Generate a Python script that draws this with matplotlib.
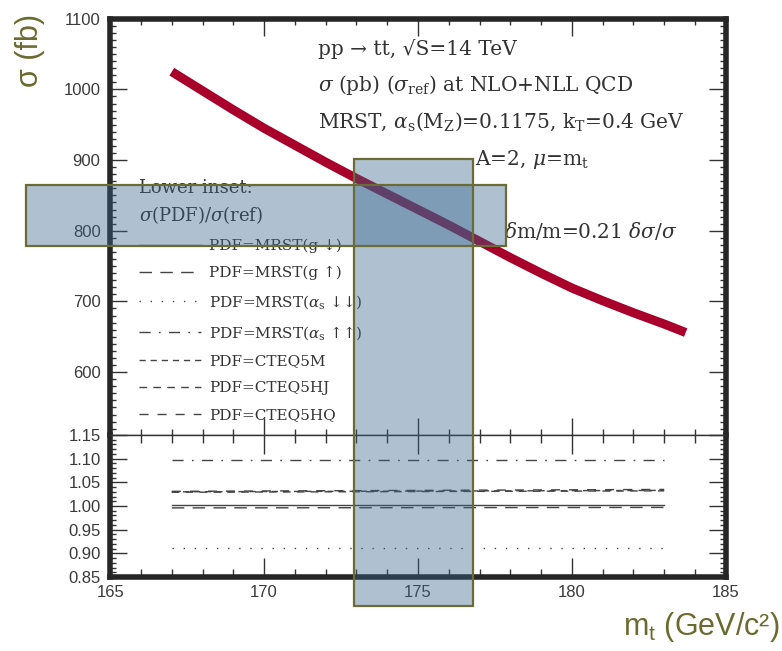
import numpy as np
import matplotlib
matplotlib.use("Agg")
import matplotlib.pyplot as plt
from matplotlib.patches import Rectangle
from matplotlib.ticker import MultipleLocator, FormatStrFormatter
from matplotlib.transforms import blended_transform_factory

# ── data ─────────────────────────────────────────────────────────────────────
MT_CURVE = [167.0, 168.0, 169.0, 170.0, 171.0, 172.0, 173.0, 174.0, 175.0,
            176.0, 177.0, 178.0, 179.0, 180.0, 181.0, 182.0, 183.0, 183.7]
SIGMA_FB = [1025, 998, 971, 945, 921, 897, 874, 852, 830,
            808, 785, 762, 740, 719, 701, 684, 668, 656]

MT_RATIO = [167.0, 183.0]
PDF_LABELS = ["PDF=MRST(g ↓)",
              "PDF=MRST(g ↑)",
              r"PDF=MRST($\alpha_{\rm s}$ ↓↓)",
              r"PDF=MRST($\alpha_{\rm s}$ ↑↑)",
              "PDF=CTEQ5M",
              "PDF=CTEQ5HJ",
              "PDF=CTEQ5HQ"]
RATIO_MRST_GDN  = [1.003, 1.003]
RATIO_MRST_GUP  = [0.996, 0.997]
RATIO_MRST_ADN  = [0.911, 0.911]
RATIO_MRST_AUP  = [1.097, 1.097]
RATIO_CTEQ5M    = [1.030, 1.033]
RATIO_CTEQ5HJ   = [1.029, 1.032]
RATIO_CTEQ5HQ   = [1.031, 1.035]
RATIOS = [RATIO_MRST_GDN, RATIO_MRST_GUP, RATIO_MRST_ADN, RATIO_MRST_AUP,
          RATIO_CTEQ5M, RATIO_CTEQ5HJ, RATIO_CTEQ5HQ]

# highlighted windows
MT_BAND    = (172.93, 176.80)
SIGMA_BAND = (779.0, 865.0)

# ── styles ───────────────────────────────────────────────────────────────────
DASHES = ["-", (0, (9, 6)), (0, (1, 7)), (0, (8, 6, 1.2, 6)),
          (0, (4.5, 3.5)), (0, (5.5, 4.5)), (0, (6.5, 6.5))]
INK    = "#333333"
FRAME  = "#262626"
OLIVE  = "#6b6b30"
RED    = "#a8002a"
SERIF  = "DejaVu Serif"
SANS   = "Liberation Sans"

fig = plt.figure(figsize=(7.82, 6.51), dpi=100, facecolor="white")
L, R = 0.1410, 0.9280
ax  = fig.add_axes([L, 0.3318, R - L, 0.97127 - 0.3318])
axb = fig.add_axes([L, 0.11367, R - L, 0.3318 - 0.11367], sharex=ax)

# upper panel: cross section
ax.plot(MT_CURVE, SIGMA_FB, color=RED, lw=6.5, solid_capstyle="butt", zorder=3)
ax.set_xlim(165, 185)
ax.set_ylim(511, 1100)

# lower panel: ratios
handles = []
for vals, ls, lab in zip(RATIOS, DASHES, PDF_LABELS):
    h, = axb.plot(MT_RATIO, vals, color="#444444", lw=1.0, ls=ls, label=lab)
    handles.append(h)
axb.set_ylim(0.85, 1.15)

# ticks / frames
for a in (ax, axb):
    a.tick_params(which="both", direction="in", top=True, right=True,
                  color=INK, width=1.0, labelcolor="#3a3a3a", labelsize=12)
    a.tick_params(which="major", length=12)
    a.tick_params(which="minor", length=4)
    a.xaxis.set_major_locator(MultipleLocator(5))
    a.xaxis.set_minor_locator(MultipleLocator(1))
ax.yaxis.set_major_locator(MultipleLocator(100))
ax.yaxis.set_minor_locator(MultipleLocator(10))
axb.yaxis.set_major_locator(MultipleLocator(0.05))
axb.yaxis.set_minor_locator(MultipleLocator(0.01))
axb.yaxis.set_major_formatter(FormatStrFormatter("%.2f"))
ax.tick_params(labelbottom=False, pad=7)
axb.tick_params(axis="y", pad=7)
axb.tick_params(axis="x", pad=6)
axb.tick_params(axis="x", which="major", length=14)
axb.tick_params(axis="x", which="minor", length=6)
for lab in ax.get_yticklabels() + axb.get_yticklabels() + axb.get_xticklabels():
    lab.set_fontfamily(SANS)

for sp in ("left", "top", "right"):
    ax.spines[sp].set_linewidth(4.0)
    ax.spines[sp].set_color(FRAME)
ax.spines["bottom"].set_linewidth(1.0)
ax.spines["bottom"].set_color(INK)
for sp in ("left", "bottom", "right"):
    axb.spines[sp].set_linewidth(4.0)
    axb.spines[sp].set_color(FRAME)
axb.spines["top"].set_linewidth(1.0)
axb.spines["top"].set_color(INK)

# annotation text
def note(x, y, s, **kw):
    ax.text(x, y, s, transform=ax.transAxes, fontsize=14.5, color=INK,
            family=SERIF, math_fontfamily="dejavuserif", va="center", **kw)

note(0.3375, 0.928, "pp → tt, √S=14 TeV")
note(0.3375, 0.840, r"$\sigma$ (pb) ($\sigma_{\rm ref}$) at NLO+NLL QCD")
note(0.3375, 0.752, r"MRST, $\alpha_{\rm s}$(M$_{\rm Z}$)=0.1175, k$_{\rm T}$=0.4 GeV")
note(0.592, 0.662, r"A=2, $\mu$=m$_{\rm t}$")
note(0.640, 0.490, r"$\delta$m/m=0.21 $\delta\sigma/\sigma$")

leg = ax.legend(handles=handles, loc="upper left", bbox_to_anchor=(0.047, 0.614),
                frameon=False, handlelength=4.05, handletextpad=0.52,
                labelspacing=0.84, borderpad=0.0, borderaxespad=0.0,
                title="Lower inset:\n" + r"$\sigma$(PDF)/$\sigma$(ref)",
                alignment="left",
                prop={"family": SERIF, "size": 11, "math_fontfamily": "dejavuserif"})
title = leg.get_title()
title.set_fontfamily(SERIF)
title.set_fontsize(13)
title.set_color(INK)
title.set_math_fontfamily("dejavuserif")
title.set_linespacing(1.4)
for t in leg.get_texts():
    t.set_color(INK)

# axis labels (olive, slide style)
fig.text(0.038, 0.922, "σ (fb)", rotation=90, color=OLIVE, fontsize=22,
         family=SANS, ha="center", va="center")
fig.text(0.997, 0.025, r"m$_\mathregular{t}$ (GeV/c²)", color=OLIVE, fontsize=22,
         family=SANS, ha="right", va="baseline")

# highlighted bands over the axes
band_fill = dict(facecolor="#39668e", alpha=0.40, zorder=10)
band_edge = dict(facecolor="none", edgecolor="#6b6b35", lw=1.6, zorder=11)
vtrans = blended_transform_factory(ax.transData, fig.transFigure)
vy0, vy1 = 1 - 606 / 651, 1 - 159 / 651
for kw in (band_fill, band_edge):
    fig.add_artist(Rectangle((MT_BAND[0], vy0), MT_BAND[1] - MT_BAND[0], vy1 - vy0,
                             transform=vtrans, **kw))
    fig.add_artist(Rectangle((162.25, SIGMA_BAND[0]), 177.85 - 162.25,
                             SIGMA_BAND[1] - SIGMA_BAND[0],
                             transform=ax.transData, **kw))

fig.savefig("out.png", dpi=100, facecolor="white")
